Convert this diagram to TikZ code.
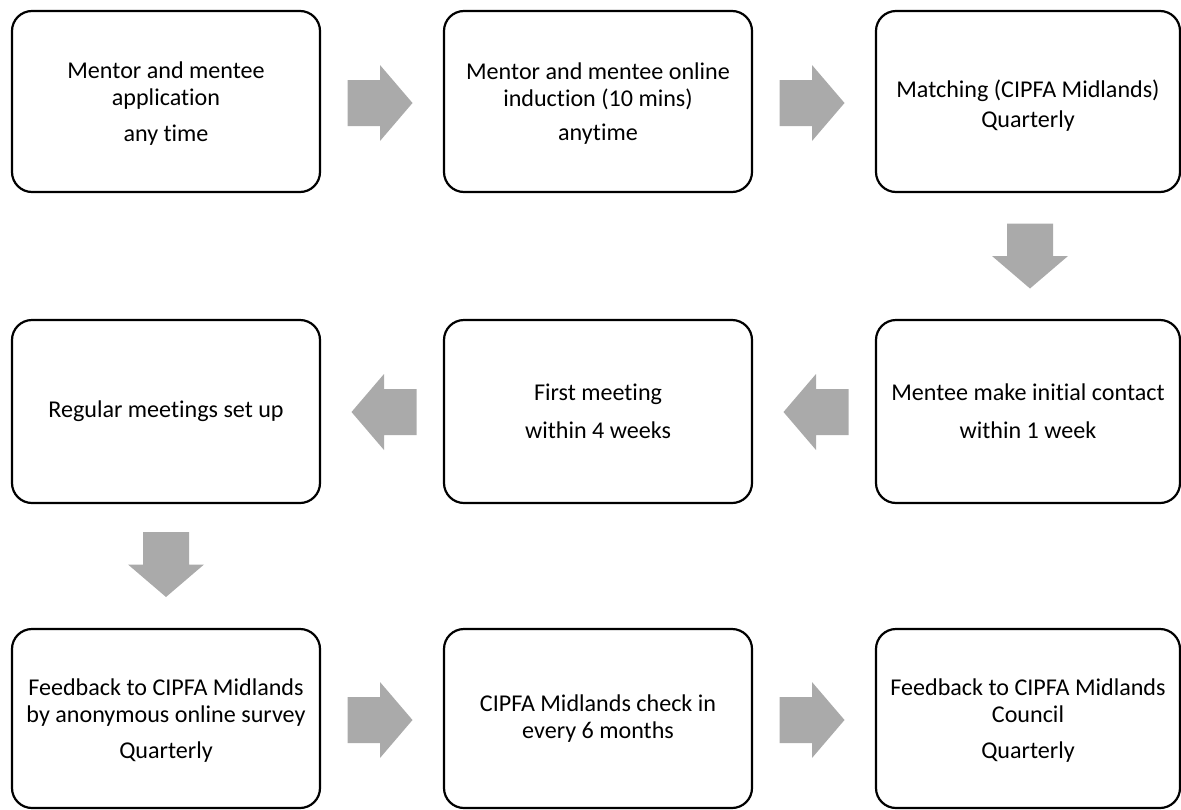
\documentclass[tikz,border=0pt]{standalone}
\usepackage{fontspec}
\setmainfont{Carlito}[Ligatures={NoCommon}]
\usetikzlibrary{calc}
\definecolor{arrowgray}{RGB}{170,170,170}
\tikzset{
  stepbox/.style={draw=black, line width=2.2pt, rounded corners=20pt, align=center,
    inner sep=0pt, outer sep=0pt, font=\fontsize{24.1}{26.8}\selectfont},
  arrowfill/.style={fill=arrowgray, draw=none},
  rarr/.pic={\fill[arrowfill] (-32.5,-23) -- (0,-23) -- (0,-38) -- (32.5,0) -- (0,38) -- (0,23) -- (-32.5,23) -- cycle;},
  larr/.pic={\fill[arrowfill] (32.5,-23) -- (0,-23) -- (0,-38) -- (-32.5,0) -- (0,38) -- (0,23) -- (32.5,23) -- cycle;},
  darr/.pic={\fill[arrowfill] (-23,-32.5) -- (-23,0) -- (-38,0) -- (0,32.5) -- (38,0) -- (23,0) -- (23,-32.5) -- cycle;}
}
\begin{document}
\begin{tikzpicture}[x=1pt,y=-1pt]
\useasboundingbox (0,0) rectangle (1181,809);
% row 1
\node[stepbox, minimum width=308pt, minimum height=181pt] (b1) at (166,101.5)
  {\rule{0pt}{21pt}Mentor and mentee\\application\\[9.5pt]any time};
\node[stepbox, minimum width=308pt, minimum height=181pt] (b2) at (598,101.5)
  {\rule{0pt}{21pt}Mentor and mentee online\\induction (10 mins)\\[8pt]anytime};
\node[stepbox, minimum width=304pt, minimum height=181pt] (b3) at (1028,101.5)
  {\rule{0pt}{26pt}Matching (CIPFA Midlands)\\[2.5pt]Quarterly};
% row 2
\node[stepbox, minimum width=304pt, minimum height=183pt] (b4) at (1028,411.5)
  {Mentee make initial contact\\[11pt]within 1 week};
\node[stepbox, minimum width=308pt, minimum height=183pt] (b5) at (598,411.5)
  {First meeting\\[11pt]within 4 weeks};
\node[stepbox, minimum width=308pt, minimum height=183pt] (b6) at (166,411.5)
  {Regular meetings set up};
% row 3
\node[stepbox, minimum width=308pt, minimum height=179pt] (b7) at (166,718.5)
  {\rule{0pt}{21pt}Feedback to CIPFA Midlands\\by anonymous online survey\\[10pt]Quarterly};
\node[stepbox, minimum width=308pt, minimum height=179pt] (b8) at (598,718.5)
  {CIPFA Midlands check in\\every 6 months};
\node[stepbox, minimum width=304pt, minimum height=179pt] (b9) at (1028,718.5)
  {\rule{0pt}{21pt}Feedback to CIPFA Midlands\\Council\\[10pt]Quarterly};
% block arrows
\path ($(b1.east)!0.5!(b2.west)+(-2,1.5)$) pic {rarr};
\path ($(b2.east)!0.5!(b3.west)+(-2,1.5)$) pic {rarr};
\path ($(b3.south)!0.5!(b4.north)+(2,0)$) pic {darr};
\path ($(b4.west)!0.5!(b5.east)+(2,0.5)$) pic {larr};
\path ($(b5.west)!0.5!(b6.east)+(2,0.5)$) pic {larr};
\path ($(b6.south)!0.5!(b7.north)+(0,-1.5)$) pic {darr};
\path ($(b7.east)!0.5!(b8.west)+(-2,1.5)$) pic {rarr};
\path ($(b8.east)!0.5!(b9.west)+(-2,1.5)$) pic {rarr};
\end{tikzpicture}
\end{document}
